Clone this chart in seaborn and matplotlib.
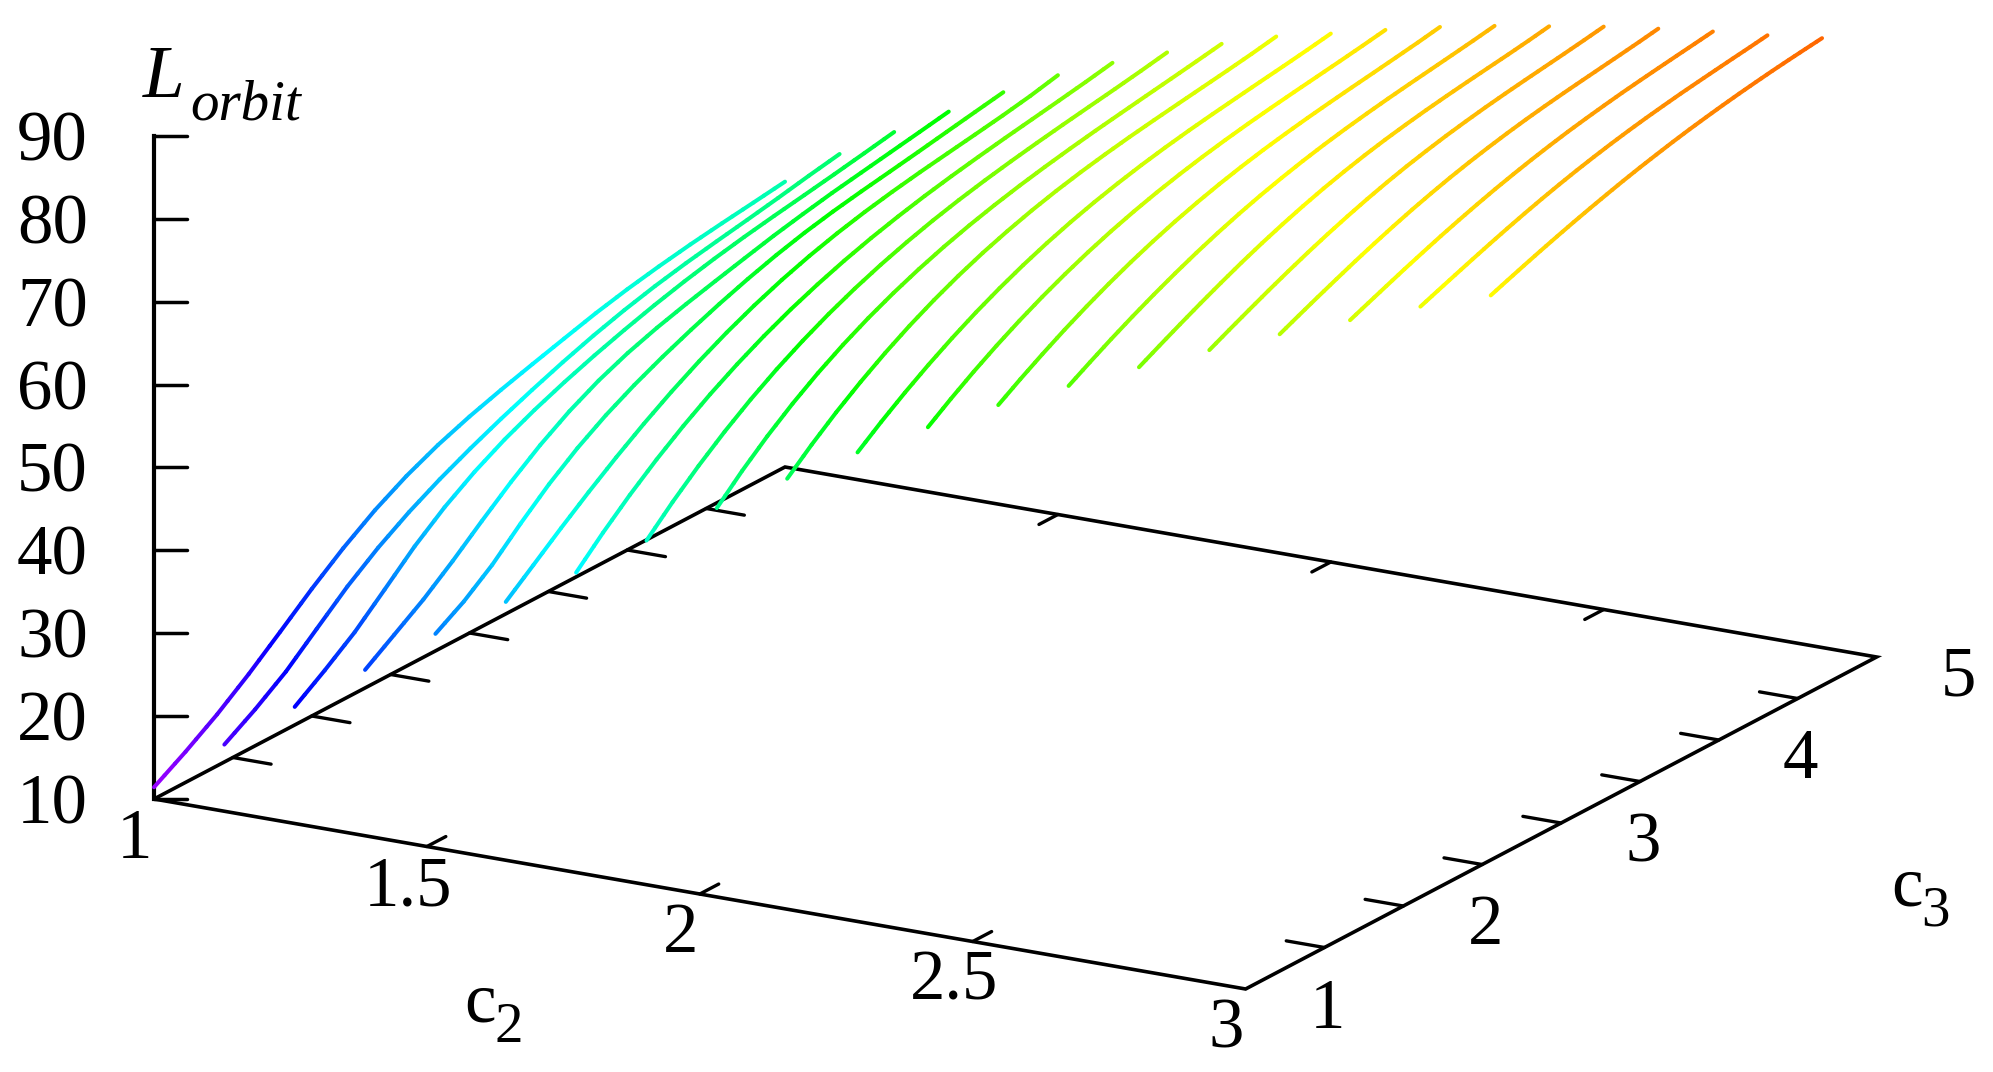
import numpy as np
import pandas as pd
import matplotlib
matplotlib.use("Agg")
import matplotlib.pyplot as plt
import seaborn as sns

# c2 of each curve, one curve runs from c3 = c2 up to c3 = 5
C2_VALUES = [1.0, 1.1, 1.2, 1.3, 1.4, 1.5, 1.6, 1.7, 1.8, 1.9,
             2.0, 2.1, 2.2, 2.3, 2.4, 2.5, 2.6, 2.7, 2.8, 2.9]

# Lorbit, 21 points equally spaced in c3 along each curve
L_C2_10 = [11.42, 13.70, 16.20, 19.05, 22.16, 25.33, 28.25, 30.81, 32.94, 34.68, 36.11,
           37.33, 38.44, 39.51, 40.56, 41.45, 42.20, 42.85, 43.40, 43.90, 44.42]
L_C2_11 = [16.71, 19.00, 21.60, 24.80, 27.97, 30.70, 33.03, 35.04, 36.82, 38.45, 39.95,
           41.35, 42.62, 43.73, 44.68, 45.48, 46.17, 46.82, 47.50, 48.23, 48.90]
L_C2_12 = [21.40, 23.90, 26.60, 29.85, 33.15, 35.97, 38.34, 40.33, 42.00, 43.46, 44.77,
           45.95, 47.03, 47.99, 48.83, 49.56, 50.20, 50.79, 51.40, 52.04, 52.70]
L_C2_13 = [26.01, 28.40, 30.80, 33.57, 36.55, 39.41, 42.01, 44.24, 46.08, 47.56, 48.75,
           49.76, 50.68, 51.57, 52.44, 53.20, 53.90, 54.50, 55.10, 55.70, 56.31]
L_C2_14 = [30.50, 32.60, 35.22, 38.40, 41.34, 43.89, 46.05, 47.89, 49.50, 50.95, 52.28,
           53.48, 54.55, 55.46, 56.21, 56.84, 57.41, 57.99, 58.60, 59.20, 59.79]
L_C2_15 = [34.50, 37.19, 39.89, 42.48, 44.93, 47.22, 49.33, 51.25, 52.97, 54.49, 55.82,
           56.96, 57.93, 58.75, 59.44, 60.04, 60.57, 61.09, 61.63, 62.24, 62.99]
L_C2_16 = [38.18, 41.28, 44.13, 46.72, 49.07, 51.19, 53.09, 54.79, 56.30, 57.62, 58.79,
           59.81, 60.70, 61.49, 62.18, 62.80, 63.38, 63.92, 64.46, 65.02, 65.63]
L_C2_17 = [42.19, 45.17, 47.89, 50.36, 52.59, 54.59, 56.37, 57.96, 59.36, 60.59, 61.67,
           62.62, 63.44, 64.16, 64.80, 65.38, 65.92, 66.43, 66.93, 67.46, 68.03]
L_C2_18 = [46.25, 49.13, 51.72, 54.04, 56.11, 57.94, 59.56, 60.99, 62.25, 63.36, 64.33,
           65.18, 65.93, 66.59, 67.19, 67.74, 68.24, 68.73, 69.21, 69.70, 70.21]
L_C2_19 = [49.94, 52.49, 54.83, 56.95, 58.88, 60.62, 62.17, 63.55, 64.77, 65.83, 66.77,
           67.58, 68.28, 68.89, 69.43, 69.91, 70.36, 70.80, 71.24, 71.71, 72.24]
L_C2_20 = [53.26, 55.44, 57.46, 59.33, 61.05, 62.63, 64.05, 65.34, 66.49, 67.51, 68.41,
           69.20, 69.90, 70.51, 71.05, 71.53, 71.97, 72.40, 72.82, 73.26, 73.74]
L_C2_21 = [56.44, 58.40, 60.23, 61.92, 63.48, 64.91, 66.21, 67.39, 68.45, 69.39, 70.23,
           70.97, 71.63, 72.21, 72.73, 73.19, 73.62, 74.03, 74.44, 74.87, 75.33]
L_C2_22 = [59.26, 60.98, 62.60, 64.13, 65.55, 66.87, 68.08, 69.18, 70.18, 71.07, 71.87,
           72.58, 73.21, 73.76, 74.26, 74.71, 75.13, 75.53, 75.94, 76.36, 76.83]
L_C2_23 = [61.71, 63.21, 64.66, 66.03, 67.32, 68.53, 69.66, 70.70, 71.65, 72.51, 73.28,
           73.98, 74.60, 75.15, 75.64, 76.09, 76.50, 76.89, 77.28, 77.68, 78.11]
L_C2_24 = [64.11, 65.41, 66.68, 67.91, 69.09, 70.22, 71.27, 72.24, 73.14, 73.96, 74.69,
           75.35, 75.93, 76.44, 76.90, 77.31, 77.69, 78.05, 78.40, 78.78, 79.20]
L_C2_25 = [66.32, 67.49, 68.63, 69.75, 70.82, 71.84, 72.80, 73.69, 74.52, 75.28, 75.97,
           76.58, 77.14, 77.63, 78.08, 78.48, 78.85, 79.20, 79.55, 79.92, 80.31]
L_C2_26 = [68.38, 69.42, 70.44, 71.43, 72.40, 73.32, 74.19, 75.01, 75.76, 76.46, 77.09,
           77.66, 78.18, 78.65, 79.07, 79.45, 79.80, 80.14, 80.48, 80.83, 81.21]
L_C2_27 = [70.22, 71.13, 72.03, 72.92, 73.77, 74.60, 75.38, 76.12, 76.82, 77.46, 78.06,
           78.61, 79.12, 79.57, 79.99, 80.38, 80.73, 81.06, 81.38, 81.69, 82.01]
L_C2_28 = [72.00, 72.81, 73.61, 74.40, 75.17, 75.91, 76.62, 77.29, 77.92, 78.51, 79.05,
           79.55, 80.01, 80.43, 80.81, 81.17, 81.49, 81.80, 82.10, 82.39, 82.70]
L_C2_29 = [73.50, 74.25, 74.99, 75.71, 76.40, 77.07, 77.71, 78.32, 78.91, 79.46, 79.97,
           80.46, 80.91, 81.32, 81.71, 82.07, 82.40, 82.71, 82.99, 83.25, 83.50]

L_CURVES = [L_C2_10, L_C2_11, L_C2_12, L_C2_13, L_C2_14, L_C2_15, L_C2_16,
            L_C2_17, L_C2_18, L_C2_19, L_C2_20, L_C2_21, L_C2_22, L_C2_23,
            L_C2_24, L_C2_25, L_C2_26, L_C2_27, L_C2_28, L_C2_29]

Z_TICKS = [10, 20, 30, 40, 50, 60, 70, 80, 90]
C2_TICKS = [1.5, 2.0, 2.5]
C3_TICKS = [1.5, 2.0, 2.5, 3.0, 3.5, 4.0, 4.5]
C2_LABELS = ["1", "1.5", "2", "2.5", "3"]
C3_LABELS = ["1", "2", "3", "4", "5"]
FONT = "Liberation Serif"
BIG = 51
SMALL = 41


def project(c2, c3, z=10.0):
    # gnuplot style orthographic view, result in image pixels
    sx = 154 + 545.8 * (np.asarray(c2) - 1) + 157.75 * (np.asarray(c3) - 1)
    sy = 799 + 95 * (np.asarray(c2) - 1) - 83 * (np.asarray(c3) - 1) - 8.29 * (np.asarray(z) - 10)
    return sx, sy


def hue_color(z, hues):
    # violet for the low values, down to orange at the top
    return hues[int(np.clip(282 - 3.5 * (z - 10), 0, 359))]


sns.set_theme(style="white")
plt.rcParams["font.family"] = [FONT, "DejaVu Sans"]
plt.rcParams["text.color"] = "black"

fig = plt.figure(figsize=(19.93, 10.72), dpi=100)
ax = fig.add_axes([0, 0, 1, 1])

# curves, cut in short pieces so the colour can follow the height
hues = sns.hls_palette(360, h=0, l=0.5, s=1)
rows = []
palette = {}
seg = 0
for c2, values in zip(C2_VALUES, L_CURVES):
    c3 = np.linspace(c2, 5, len(values))
    for i in range(len(values) - 1):
        for k in range(3):
            t = np.array([k, k + 1]) / 3
            c3_part = c3[i] + t * (c3[i + 1] - c3[i])
            z_part = values[i] + t * (values[i + 1] - values[i])
            sx, sy = project(c2, c3_part, z_part)
            rows.append(pd.DataFrame({"sx": sx, "sy": sy, "seg": seg}))
            palette[seg] = hue_color(z_part.mean(), hues)
            seg += 1
df = pd.concat(rows, ignore_index=True)

# frame first, the curves go over it
frame_c2 = [1, 3, 3, 1, 1]
frame_c3 = [1, 1, 5, 5, 1]
sx, sy = project(frame_c2, frame_c3)
ax.plot(sx, sy, color="black", lw=2.6, solid_joinstyle="miter", zorder=1)
sx, sy = project([1, 1], [1, 1], [10, 90])
ax.plot(sx, sy, color="black", lw=3.0, solid_capstyle="projecting", zorder=1)

for z in Z_TICKS:
    sx, sy = project(1, 1, z)
    ax.plot([sx, sx + 33], [sy, sy], color="black", lw=2.5, zorder=1)
    ax.text(88, sy + 24.5, str(z), ha="right", va="baseline", fontsize=BIG)

for c2 in C2_TICKS:
    sx, sy = project([c2, c2], [1, 1.12])
    ax.plot(sx, sy, color="black", lw=2.4, zorder=1)
    sx, sy = project([c2, c2], [5, 4.88])
    ax.plot(sx, sy, color="black", lw=2.4, zorder=1)

for c3 in C3_TICKS:
    sx, sy = project([1, 1.07], [c3, c3])
    ax.plot(sx, sy, color="black", lw=2.4, zorder=1)
    sx, sy = project([3, 2.93], [c3, c3])
    ax.plot(sx, sy, color="black", lw=2.4, zorder=1)

sns.lineplot(data=df, x="sx", y="sy", hue="seg", palette=palette, sort=False,
             estimator=None, legend=False, linewidth=2.9, ax=ax, zorder=3,
             solid_capstyle="round")

for lab, c2 in zip(C2_LABELS, np.linspace(1, 3, 5)):
    sx, sy = project(c2, 1)
    ax.text(sx - 19, sy + 58.5, lab, ha="center", va="baseline", fontsize=BIG)
for lab, c3 in zip(C3_LABELS, np.linspace(1, 5, 5)):
    sx, sy = project(3, c3)
    ax.text(sx + 82, sy + 38.5, lab, ha="center", va="baseline", fontsize=BIG)

# axis names, letter and index set apart as in the original
ax.text(143, 97, "L", style="italic", va="baseline", fontsize=54)
ax.text(190, 119, "orbit", style="italic", va="baseline", fontsize=SMALL)
ax.text(464, 1021, "c", va="baseline", fontsize=BIG)
ax.text(495, 1042, "2", va="baseline", fontsize=SMALL)
ax.text(1891, 905, "c", va="baseline", fontsize=BIG)
ax.text(1921, 925, "3", va="baseline", fontsize=SMALL)

ax.set_xlim(0, 1993)
ax.set_ylim(1072, 0)
ax.axis("off")
fig.savefig("out.png", dpi=100, facecolor="white")
plt.close(fig)
